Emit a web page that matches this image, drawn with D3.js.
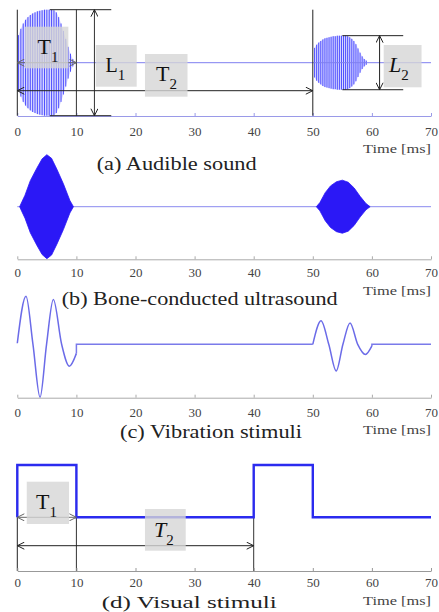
<!DOCTYPE html>
<html>
<head>
<meta charset="utf-8">
<script src="https://cdn.jsdelivr.net/npm/d3@7"></script>
<style>
body{margin:0;background:#fff}
svg{display:block}
text{font-family:"Liberation Serif","Times New Roman",serif}
</style>
</head>
<body>
<svg width="439" height="612"></svg>
<script>
// tick values of the time axis [ms]
var ticks=[0,10,20,30,40,50,60,70];

// (a) audible sound, one entry per visible oscillation line: [time ms, amplitude]
var audible1=[[0.2,0.52],[0.6,0.64],[1.0,0.74],[1.4,0.81],[1.8,0.86],[2.2,0.9],[2.6,0.93],[3.0,0.95],
	[3.4,0.97],[3.8,0.98],[4.2,0.99],[4.6,1.0],[5.0,1.0],[5.4,1.0],[5.8,1.0],[6.2,0.99],[6.6,0.95],
	[7.0,0.86],[7.4,0.74],[7.8,0.6],[8.2,0.45],[8.6,0.3],[9.0,0.17],[9.4,0.07]];
var audible2=[[50.3,0.28],[50.65,0.34],[51.0,0.38],[51.35,0.41],[51.7,0.44],[52.05,0.46],[52.4,0.47],
	[52.75,0.48],[53.1,0.49],[53.45,0.5],[53.8,0.5],[54.15,0.51],[54.5,0.51],[54.85,0.51],[55.2,0.51],
	[55.55,0.51],[55.9,0.5],[56.25,0.48],[56.6,0.45],[56.95,0.41],[57.3,0.35],[57.65,0.27],[58.0,0.19],
	[58.35,0.12],[58.7,0.07],[59.05,0.04]];

// (b) bone-conducted ultrasound, envelope: [time ms, amplitude]
var bone1=[[0.4,0],[0.8,0.1],[1.3,0.22],[2.2,0.5],[3.3,0.74],[4.2,0.92],[5.0,1.0],[5.8,0.93],
	[6.7,0.72],[7.8,0.44],[8.9,0.12],[9.5,0]];
var bone2=[[50.6,0],[51.2,0.08],[52.1,0.27],[53.0,0.4],[54.0,0.48],[55.0,0.51],[56.0,0.47],
	[57.0,0.36],[58.0,0.2],[59.0,0.06],[59.7,0]];

// (c) vibration stimuli: [time ms, value]
var vib1=[[0,0.02],[1.47,0.9],[2.65,0],[3.85,-0.99],[4.95,0],[6.1,0.84],[7.5,0],[8.8,-0.41],[10,-0.17]];
var vib2=[[50,0],[51.4,0.44],[52.7,0],[53.96,-0.5],[55.1,0],[56.3,0.4],[57.6,0],[58.9,-0.19],[60,-0.03]];
var vibRest1=[[10,0],[50,0]];
var vibRest2=[[60,0],[70,0]];

// (d) visual stimuli, on/off level: [time ms, level]
var visual=[[0,0],[0,1],[10,0],[40,1],[50,0],[70,0]];

window.onload=function()
{
	var svg=d3.select("svg");
	var x=d3.scaleLinear().domain([0,70]).range([17.3,431]);

	var ya=d3.scaleLinear().domain([-1,1]).range([115.7,9.7]);
	var yb=d3.scaleLinear().domain([-1,1]).range([258.7,154.7]);
	var yc=d3.scaleLinear().domain([-1,1]).range([397.7,290.9]);
	var yd=d3.scaleLinear().domain([0,1]).range([517.3,465]);

	var defs=svg.append("defs");
	function marker(id,color)
	{
		defs.append("marker").attr("id",id)
			.attr("viewBox","0 0 8 8").attr("refX",7.5).attr("refY",4)
			.attr("markerWidth",8).attr("markerHeight",8)
			.attr("markerUnits","userSpaceOnUse")
			.attr("orient","auto-start-reverse")
			.append("path").attr("d","M0.5,0.5 L7.5,4 L0.5,7.5")
			.attr("fill","none").attr("stroke",color).attr("stroke-width",1);
	}
	marker("ar-dark","#222");
	marker("ar-gray","#666");

	function axis(yPos,pad,color)
	{
		var g=svg.append("g")
			.attr("transform","translate(0,"+yPos+")")
			.call(d3.axisBottom(x).tickValues(ticks).tickSize(-3).tickSizeOuter(0).tickPadding(pad));
		g.select(".domain").attr("stroke",color);
		g.selectAll(".tick line").attr("stroke",color);
		g.selectAll(".tick text").attr("fill","#444").style("font-size","13px")
			.style("font-family","'Liberation Serif',serif");
	}

	function label(txt,xp,yp,len,size,col)
	{
		svg.append("text").attr("x",xp).attr("y",yp).text(txt)
			.attr("textLength",len).attr("lengthAdjust","spacingAndGlyphs")
			.style("font-size",size+"px").attr("fill",col||"#222");
	}

	function hline(x1,x2,yp,color,mk)
	{
		var l=svg.append("line").attr("x1",x1).attr("x2",x2).attr("y1",yp).attr("y2",yp)
			.attr("stroke",color).attr("stroke-width",1);
		if(mk) l.attr("marker-start","url(#"+mk+")").attr("marker-end","url(#"+mk+")");
		return l;
	}
	function vline(xp,y1,y2,color,mk)
	{
		var l=svg.append("line").attr("x1",xp).attr("x2",xp).attr("y1",y1).attr("y2",y2)
			.attr("stroke",color).attr("stroke-width",1);
		if(mk) l.attr("marker-start","url(#"+mk+")").attr("marker-end","url(#"+mk+")");
		return l;
	}
	function box(t1,t2,y1,y2)
	{
		svg.append("rect").attr("x",x(t1)).attr("y",y1)
			.attr("width",x(t2)-x(t1)).attr("height",y2-y1)
			.attr("fill","#d6d6d6").attr("opacity",0.8);
	}
	function symbol(letter,sub,xp,yp,italic,size)
	{
		var t=svg.append("text").attr("x",xp).attr("y",yp).attr("fill","#111")
			.style("font-size",size+"px").style("font-style",italic?"italic":"normal");
		t.append("tspan").text(letter);
		t.append("tspan").attr("dy",8).style("font-size","15px").style("font-style","normal").text(sub);
	}

	// ---------- (a) Audible sound ----------
	var areaA=d3.area().x(d=>x(d[0])).y0(d=>ya(-d[1])).y1(d=>ya(d[1]));
	[audible1,audible2].forEach(function(b)
	{
		svg.append("path").attr("d",areaA(b)).attr("fill","#dadaff");
		svg.selectAll(null).data(b).enter().append("line")
			.attr("x1",d=>x(d[0])).attr("x2",d=>x(d[0]))
			.attr("y1",d=>ya(d[1])).attr("y2",d=>ya(-d[1]))
			.attr("stroke","#2a2aff").attr("stroke-width",0.8);
	});
	hline(x(0),x(70),ya(0),"#7f7ff0");
	axis(ya(-1)+0.3,11,"#9a9ae8");

	vline(x(0),ya(1),ya(-1),"#222");
	vline(x(10),ya(1),ya(-1),"#333");
	vline(x(50),ya(1),ya(-1),"#222");
	hline(x(5.5),x(15.9),ya(1),"#222");
	hline(x(5.5),x(15.9),ya(-1),"#222");
	vline(x(13.05),ya(1),ya(-1),"#333","ar-dark");
	hline(x(55),x(65.3),ya(0.51),"#222");
	hline(x(55),x(65.3),ya(-0.51),"#222");
	vline(x(61.3),ya(0.51),ya(-0.51),"#222","ar-dark");
	hline(x(0),x(10),ya(0),"#666","ar-gray");
	hline(x(0),x(50),90.7,"#222","ar-dark");

	box(1.3,8.64,26.7,68.3);
	box(13.27,20.2,45,86.7);
	box(21.6,28.8,54,96.7);
	box(62.0,68.4,45,87.3);
	symbol("T","1",37.5,53.5,false,22);
	symbol("L","1",105.5,72,false,20);
	symbol("T","2",156,80.5,false,22);
	symbol("L","2",389,72,true,22);

	label("(a) Audible sound",96.7,170,160,19);
	label("Time [ms]",363,152.5,68,13.5,"#444");

	// ---------- (b) Bone-conducted ultrasound ----------
	hline(x(0),x(70),yb(0),"#8a8aef");
	var areaB=d3.area().x(d=>x(d[0])).y0(d=>yb(-d[1])).y1(d=>yb(d[1]));
	[bone1,bone2].forEach(function(b)
	{
		svg.append("path").attr("d",areaB(b)).attr("fill","#2b18f6")
			.attr("stroke","#2b18f6").attr("stroke-width",0.8);
	});
	axis(259.3,8,"#aaa");
	label("(b) Bone-conducted ultrasound",61.7,305,276,19);
	label("Time [ms]",363,295,68,13.5,"#444");

	// ---------- (c) Vibration stimuli ----------
	var curveC=d3.line().x(d=>x(d[0])).y(d=>yc(d[1])).curve(d3.curveMonotoneX);
	var flatC=d3.line().x(d=>x(d[0])).y(d=>yc(d[1]));
	[vib1,vib2].forEach(function(v)
	{
		svg.append("path").attr("d",curveC(v)).attr("fill","none")
			.attr("stroke","#6b6be8").attr("stroke-width",1.5);
	});
	[[vib1[vib1.length-1]].concat(vibRest1),[vib2[vib2.length-1]].concat(vibRest2)].forEach(function(v)
	{
		svg.append("path").attr("d",flatC(v)).attr("fill","none")
			.attr("stroke","#7a7aea").attr("stroke-width",1.5);
	});
	axis(397.7,10.5,"#aaa");
	label("(c) Vibration stimuli",120,438,182,18.5);
	label("Time [ms]",363,434,68,13.5,"#444");

	// ---------- (d) Visual stimuli ----------
	vline(x(0),yd(1),571,"#222");
	vline(x(10),yd(1),571,"#333");
	vline(x(40),yd(1),571,"#333");
	var stepD=d3.line().x(d=>x(d[0])).y(d=>yd(d[1])).curve(d3.curveStepAfter);
	svg.append("path").attr("d",stepD(visual)).attr("fill","none")
		.attr("stroke","#2b2bef").attr("stroke-width",2.4);
	axis(571,7,"#999");
	hline(x(0),x(10),yd(0),"#666","ar-gray");
	hline(x(0),x(40),545.7,"#222","ar-dark");

	box(1.6,8.75,481.7,524);
	box(21.6,28.5,509,550.7);
	symbol("T","1",36,508.5,false,22);
	symbol("T","2",154,537,true,22);

	label("(d) Visual stimuli",101.7,607.5,175,17.5);
	label("Time [ms]",363,605,68,13.5,"#444");
}
</script>
</body>
</html>
